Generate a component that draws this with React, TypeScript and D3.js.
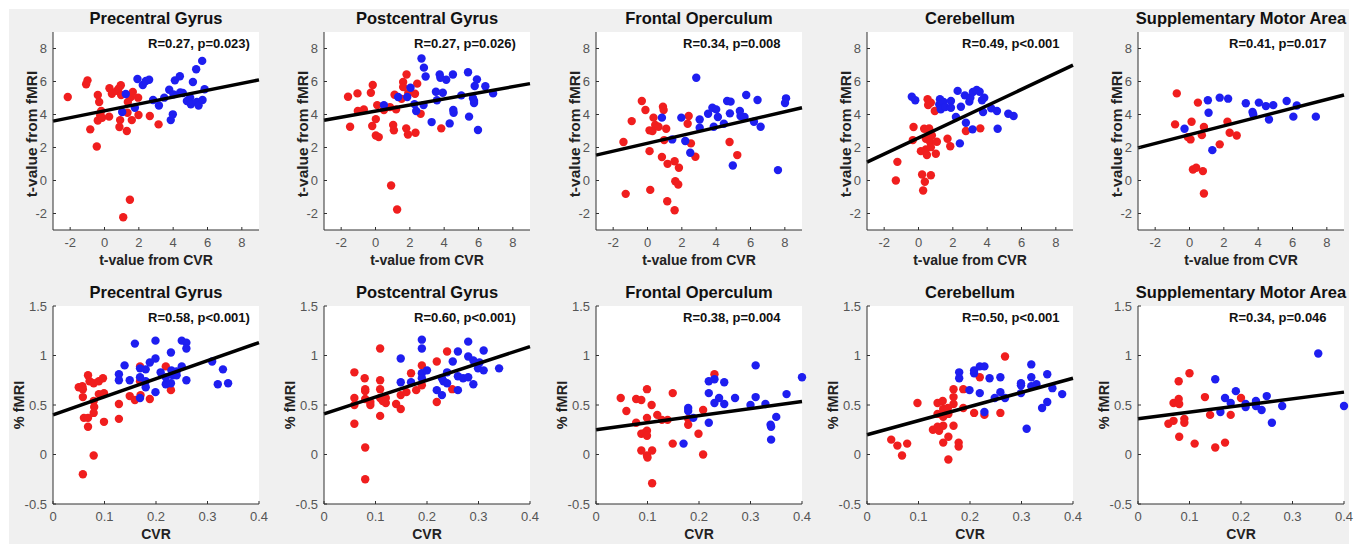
import React from 'react';
import * as d3 from 'd3';

type P = [number, number];

// ---------- labels ----------
const regions = ['Precentral Gyrus', 'Postcentral Gyrus', 'Frontal Operculum', 'Cerebellum', 'Supplementary Motor Area'];
const statsTop = ['R=0.27, p=0.023)', 'R=0.27, p=0.026)', 'R=0.34, p=0.008', 'R=0.49, p<0.001', 'R=0.41, p=0.017'];
const statsBottom = ['R=0.58, p<0.001)', 'R=0.60, p<0.001)', 'R=0.38, p=0.004', 'R=0.50, p<0.001', 'R=0.34, p=0.046'];
const tTicks = [-2, 0, 2, 4, 6, 8];
const tTickLabels = ['-2', '0', '2', '4', '6', '8'];
const cvrTicks = [0, 0.1, 0.2, 0.3, 0.4];
const cvrTickLabels = ['0', '0.1', '0.2', '0.3', '0.4'];
const pctTicks = [-0.5, 0, 0.5, 1, 1.5];
const pctTickLabels = ['-0.5', '0', '0.5', '1', '1.5'];
const tDomain: P = [-3, 9];
const cvrDomain: P = [0, 0.4];
const pctDomain: P = [-0.5, 1.5];

// ---------- top row: t-values ----------
const tPreRed: P[] = [[-2.14,5.06],[-1.07,5.83],[-0.99,6.07],[-0.83,3.1],[-0.45,2.06],[-0.39,5.18],[-0.31,4.76],[-0.39,3.64],[-0.25,3.95],[-0.19,4.21],[-0.14,3.8],[0.27,3.87],[0.29,5.59],[0.43,5.26],[0.72,5.43],[0.82,5.57],[0.95,5.77],[0.97,5.18],[0.91,3.66],[0.87,3.24],[1.3,3.0],[1.34,4.11],[1.36,4.76],[1.53,5.06],[1.65,5.36],[1.59,3.66],[1.96,5.02],[1.98,3.97],[2.64,3.91],[3.15,3.4],[1.09,-2.23],[1.48,-1.17]];
const tPreBlue: P[] = [[1.24,5.24],[1.03,4.15],[1.77,4.41],[1.92,6.15],[2.23,5.79],[2.41,6.03],[2.6,6.11],[2.83,4.88],[3.17,4.55],[3.48,5.02],[3.77,5.5],[3.86,3.66],[3.98,4.01],[4.02,5.22],[4.1,6.07],[4.39,6.32],[4.41,5.34],[4.56,5.3],[4.8,4.82],[4.99,5.02],[5.15,5.97],[5.03,4.62],[5.34,6.74],[5.38,4.76],[5.48,4.55],[5.69,7.25],[5.71,4.88],[5.83,5.53]];
const tPostRed: P[] = [[-1.6,5.08],[-1.48,3.26],[-1.05,5.28],[-1.03,4.21],[-0.68,4.31],[-0.27,5.32],[-0.16,5.79],[-0.19,3.3],[0.02,3.72],[0.02,2.73],[0.19,2.63],[0.1,4.57],[0.49,4.27],[0.84,4.45],[0.91,-0.3],[1.03,3.36],[1.07,3.04],[1.11,5.2],[1.2,4.31],[1.26,-1.76],[1.52,4.95],[1.61,5.97],[1.61,5.66],[1.81,6.42],[1.79,3.16],[1.91,5.3],[1.89,2.79],[2.3,5.26],[2.33,2.89],[2.43,5.87],[2.63,4.04],[3.83,3.16]];
const tPostBlue: P[] = [[0.49,4.57],[1.32,5.06],[1.85,5.06],[2.04,5.62],[2.27,4.63],[2.37,4.21],[2.68,7.39],[2.82,6.84],[2.92,6.3],[2.8,4.57],[3.27,3.54],[3.52,5.38],[3.58,4.86],[3.74,6.42],[3.78,6.22],[3.92,5.32],[4.12,6.11],[4.32,3.46],[4.51,6.42],[4.53,4.27],[4.55,4.11],[5.0,5.16],[5.39,6.56],[5.45,3.87],[5.68,4.98],[5.74,4.82],[5.78,5.73],[5.74,4.7],[5.91,6.13],[5.97,3.06],[6.4,5.71],[6.85,5.28]];
const tFrontRed: P[] = [[-1.4,2.33],[-1.27,-0.81],[-0.92,3.6],[-0.33,4.82],[-0.12,4.27],[0.12,3.04],[0.12,1.78],[0.16,-0.57],[0.29,3.0],[0.35,3.81],[0.45,3.36],[0.64,3.26],[0.84,1.42],[0.9,4.47],[0.94,4.27],[0.97,2.45],[1.09,3.14],[1.15,-1.26],[1.17,1.01],[1.58,-1.8],[1.58,1.17],[1.62,-0.04],[1.79,-0.24],[1.83,0.77],[2.4,3.91],[2.34,3.44],[2.53,2.25],[2.79,1.44],[4.78,2.33],[5.23,1.54]];
const tFrontBlue: P[] = [[0.84,3.81],[1.44,2.49],[1.97,3.81],[2.2,2.39],[2.49,1.68],[2.84,6.23],[3.04,3.7],[3.04,3.2],[3.53,4.05],[3.78,4.41],[4.0,4.31],[4.1,3.85],[3.86,3.26],[4.45,3.44],[4.64,4.82],[4.84,4.78],[4.8,4.07],[4.97,0.91],[5.38,4.21],[5.42,3.91],[5.65,3.85],[5.75,5.18],[6.2,3.56],[6.41,4.88],[6.59,3.26],[7.6,0.63],[8.01,4.7],[8.07,4.98]];
const tCereRed: P[] = [[-1.32,0],[-1.23,1.13],[-0.33,2.45],[-0.29,3.24],[0.14,1.78],[0.21,0.36],[0.27,-0.61],[0.33,3.14],[0.37,-0.08],[0.43,2.53],[0.43,1.88],[0.49,1.54],[0.53,4.92],[0.56,4.57],[0.62,2.79],[0.62,3.16],[0.68,2.33],[0.72,4.72],[0.72,0.32],[0.72,2.02],[0.78,2.73],[0.95,4.21],[1.01,1.62],[1.07,2.35],[1.69,2.53],[1.85,2.08],[2.76,3.0],[3.6,3.16]];
const tCereBlue: P[] = [[-0.39,5.08],[-0.19,4.86],[1.25,4.92],[1.21,4.61],[1.3,4.31],[1.46,4.76],[1.56,4.45],[1.89,4.82],[1.89,4.41],[2.18,3.85],[2.28,5.43],[2.41,2.25],[2.47,4.47],[2.7,5.16],[2.76,3.5],[2.96,4.78],[3.02,5.02],[3.15,3.1],[3.17,5.36],[3.39,5.49],[3.56,5.38],[3.7,4.86],[3.76,4.15],[3.83,5.02],[4.24,4.37],[4.57,4.21],[4.61,3.14],[5.23,4.05],[5.54,3.91]];
const tSmaRed: P[] = [[-0.84,3.4],[-0.74,5.28],[-0.1,2.63],[0.06,2.49],[0.12,3.56],[0.2,0.67],[0.39,0.77],[0.49,4.72],[0.72,2.75],[0.78,0.57],[0.84,-0.79],[0.84,3.24],[1.76,2.19],[2.21,3.56],[2.34,2.89],[2.75,2.73]];
const tSmaBlue: P[] = [[-0.29,3.14],[1.07,4.86],[1.11,4.11],[1.33,1.84],[1.76,5.02],[2.25,4.96],[3.28,4.68],[3.67,4.15],[3.71,4.01],[4.04,4.72],[4.45,4.51],[4.63,3.7],[4.88,4.57],[5.66,4.82],[6.05,3.87],[6.25,4.55],[7.36,3.87]];

// ---------- bottom row: CVR vs % fMRI ----------
const cPreRed: P[] = [[0.05,0.68],[0.057,0.69],[0.058,0.66],[0.058,0.58],[0.06,0.37],[0.058,-0.2],[0.068,0.8],[0.068,0.37],[0.068,0.28],[0.071,0.74],[0.079,-0.01],[0.079,0.72],[0.079,0.54],[0.08,0.48],[0.079,0.42],[0.089,0.74],[0.089,0.61],[0.097,0.77],[0.099,0.62],[0.099,0.33],[0.128,0.51],[0.128,0.36],[0.149,0.59],[0.159,0.55],[0.169,0.89],[0.169,0.74],[0.17,0.6],[0.188,0.56],[0.219,0.89],[0.229,0.65]];
const cPreBlue: P[] = [[0.128,0.81],[0.128,0.75],[0.139,0.9],[0.149,0.75],[0.159,1.12],[0.169,0.87],[0.169,0.78],[0.169,0.57],[0.18,0.74],[0.18,0.68],[0.18,0.86],[0.188,0.93],[0.199,1.15],[0.199,0.97],[0.199,0.63],[0.209,0.83],[0.219,0.71],[0.219,0.78],[0.229,1.03],[0.229,0.72],[0.23,0.85],[0.233,0.8],[0.24,0.84],[0.24,0.8],[0.25,0.89],[0.25,1.15],[0.259,1.13],[0.259,1.07],[0.259,0.75],[0.309,0.94],[0.32,0.71],[0.33,0.86],[0.34,0.72]];
const cPostRed: P[] = [[0.059,0.83],[0.059,0.57],[0.059,0.5],[0.059,0.31],[0.079,0.77],[0.08,0.66],[0.08,0.64],[0.08,0.56],[0.08,0.07],[0.08,-0.25],[0.09,0.53],[0.09,0.5],[0.109,1.07],[0.109,0.75],[0.109,0.66],[0.109,0.39],[0.109,0.57],[0.114,0.54],[0.12,0.57],[0.12,0.52],[0.14,0.51],[0.149,0.6],[0.149,0.46],[0.16,0.63],[0.169,0.82],[0.179,0.65],[0.19,0.9],[0.19,0.7],[0.219,0.94],[0.219,0.53],[0.239,1.04],[0.249,0.66]];
const cPostBlue: P[] = [[0.149,0.97],[0.149,0.73],[0.169,0.73],[0.19,1.16],[0.19,1.07],[0.19,0.82],[0.19,0.77],[0.2,0.85],[0.219,0.65],[0.229,0.77],[0.229,0.6],[0.232,0.74],[0.239,0.72],[0.239,0.83],[0.25,0.94],[0.26,1.04],[0.26,0.79],[0.26,0.65],[0.27,0.77],[0.28,1.14],[0.28,0.99],[0.28,0.78],[0.29,0.95],[0.29,0.71],[0.299,0.87],[0.302,0.93],[0.31,1.05],[0.31,0.85],[0.34,0.87]];
const cFrontRed: P[] = [[0.048,0.57],[0.059,0.44],[0.078,0.56],[0.078,0.32],[0.088,0.55],[0.088,0.21],[0.088,0.04],[0.095,0.22],[0.099,0.66],[0.099,0.37],[0.099,0.24],[0.099,0.19],[0.099,-0.01],[0.1,-0.03],[0.108,0.5],[0.109,0.04],[0.109,-0.29],[0.119,0.4],[0.128,0.35],[0.139,0.35],[0.149,0.62],[0.149,0.11],[0.179,0.36],[0.179,0.3],[0.199,0.21],[0.208,0.45],[0.208,0.0],[0.23,0.81]];
const cFrontBlue: P[] = [[0.17,0.11],[0.179,0.47],[0.179,0.44],[0.189,0.37],[0.219,0.74],[0.219,0.62],[0.219,0.32],[0.23,0.76],[0.23,0.52],[0.239,0.57],[0.249,0.73],[0.249,0.51],[0.27,0.57],[0.3,0.5],[0.31,0.9],[0.31,0.58],[0.329,0.51],[0.339,0.3],[0.34,0.28],[0.34,0.15],[0.35,0.38],[0.37,0.61],[0.4,0.78]];
const cCereRed: P[] = [[0.047,0.15],[0.059,0.09],[0.068,-0.01],[0.078,0.11],[0.098,0.52],[0.128,0.25],[0.137,0.52],[0.137,0.41],[0.137,0.28],[0.14,0.24],[0.147,0.54],[0.148,0.46],[0.148,0.38],[0.148,0.29],[0.148,0.12],[0.157,0.47],[0.158,0.41],[0.158,0.18],[0.158,-0.05],[0.168,0.66],[0.168,0.58],[0.168,0.51],[0.168,0.29],[0.178,0.12],[0.178,0.08],[0.187,0.66],[0.187,0.47],[0.208,0.42],[0.219,0.78],[0.228,0.4],[0.259,0.42],[0.268,0.99]];
const cCereBlue: P[] = [[0.179,0.83],[0.179,0.77],[0.199,0.65],[0.208,0.85],[0.208,0.82],[0.219,0.89],[0.219,0.62],[0.228,0.89],[0.228,0.43],[0.238,0.77],[0.248,0.57],[0.259,0.78],[0.259,0.63],[0.268,0.57],[0.299,0.72],[0.299,0.7],[0.299,0.62],[0.31,0.26],[0.319,0.91],[0.319,0.78],[0.319,0.69],[0.329,0.71],[0.34,0.47],[0.35,0.81],[0.35,0.53],[0.36,0.67],[0.379,0.61]];
const cSmaRed: P[] = [[0.059,0.31],[0.069,0.34],[0.069,0.52],[0.079,0.74],[0.079,0.56],[0.08,0.51],[0.08,0.18],[0.09,0.36],[0.09,0.32],[0.1,0.82],[0.11,0.11],[0.13,0.58],[0.14,0.4],[0.15,0.07],[0.169,0.12],[0.18,0.4],[0.2,0.57]];
const cSmaBlue: P[] = [[0.15,0.76],[0.16,0.43],[0.169,0.57],[0.18,0.52],[0.19,0.64],[0.209,0.51],[0.209,0.48],[0.229,0.54],[0.229,0.49],[0.24,0.45],[0.25,0.59],[0.26,0.32],[0.28,0.49],[0.35,1.02],[0.4,0.49]];

// fitted lines: y at left and right ends of the x-domain
const tFits: P[] = [[3.6, 6.1], [3.65, 5.87], [1.54, 4.41], [1.11, 6.99], [1.98, 5.18]];
const cFits: P[] = [[0.4, 1.13], [0.41, 1.09], [0.25, 0.535], [0.2, 0.77], [0.36, 0.63]];

const tRed = [tPreRed, tPostRed, tFrontRed, tCereRed, tSmaRed];
const tBlue = [tPreBlue, tPostBlue, tFrontBlue, tCereBlue, tSmaBlue];
const cRed = [cPreRed, cPostRed, cFrontRed, cCereRed, cSmaRed];
const cBlue = [cPreBlue, cPostBlue, cFrontBlue, cCereBlue, cSmaBlue];

// ---------- layout ----------
const W = 1362, H = 544;
const colLeft = [53, 324, 596, 867, 1138];
const plotW = 206;
const rowTop = [32, 306];
const plotH = 198;
const statOffset = [95, 90, 87, 95, 91];
const RED = '#f01e1e';
const BLUE = '#1e1ef0';
const FONT = '"Liberation Sans", Arial, Helvetica, sans-serif';

interface PanelProps {
  left: number; top: number;
  xDomain: P; yDomain: P;
  xTicks: number[]; xTickLabels: string[];
  yTicks: number[]; yTickLabels: string[];
  red: P[]; blue: P[]; fit: P;
  title: string; stat: string; statDx: number;
  xLabel: string; yLabel: string; yLabelGap: number; yLabelSize: number; yLabelShift: number;
}

function Panel(p: PanelProps) {
  const x = d3.scaleLinear().domain(p.xDomain).range([p.left, p.left + plotW]);
  const y = d3.scaleLinear().domain(p.yDomain).range([p.top + plotH, p.top]);
  const bottom = p.top + plotH;
  const line = d3.line<P>().x(d => x(d[0])).y(d => y(d[1]));
  const fitPts: P[] = [[p.xDomain[0], p.fit[0]], [p.xDomain[1], p.fit[1]]];
  const axisColor = '#303030';
  const tickColor = '#555555';
  return (
    <g>
      <rect x={p.left} y={p.top} width={plotW} height={plotH} fill="#ffffff" />
      {p.red.map((d, i) => <circle key={'r' + i} cx={x(d[0])} cy={y(d[1])} r={4.2} fill={RED} />)}
      {p.blue.map((d, i) => <circle key={'b' + i} cx={x(d[0])} cy={y(d[1])} r={4.2} fill={BLUE} />)}
      <path d={line(fitPts) || ''} stroke="#000" strokeWidth={3.5} fill="none" />
      <line x1={p.left} x2={p.left + plotW} y1={bottom} y2={bottom} stroke={axisColor} strokeWidth={1} />
      <line x1={p.left} x2={p.left} y1={p.top} y2={bottom} stroke={axisColor} strokeWidth={1} />
      {p.xTicks.map((t, i) => (
        <g key={'xt' + i}>
          <line x1={x(t)} x2={x(t)} y1={bottom} y2={bottom - 3} stroke={axisColor} />
          <text x={x(t)} y={bottom + 16.5} textAnchor="middle" fontSize={13} fill={tickColor} fontFamily={FONT}>{p.xTickLabels[i]}</text>
        </g>
      ))}
      {p.yTicks.map((t, i) => (
        <g key={'yt' + i}>
          <line x1={p.left} x2={p.left + 3} y1={y(t)} y2={y(t)} stroke={axisColor} />
          <text x={p.left - 6} y={y(t) + 4.5} textAnchor="end" fontSize={13} fill={tickColor} fontFamily={FONT}>{p.yTickLabels[i]}</text>
        </g>
      ))}
      <text x={p.left + plotW / 2} y={p.top - 8} textAnchor="middle" fontSize={16.5} fontWeight="bold" fill="#111" fontFamily={FONT}>{p.title}</text>
      <text x={p.left + p.statDx} y={p.top + 16} fontSize={13} fontWeight="bold" fill="#111" fontFamily={FONT}>{p.stat}</text>
      <text x={p.left + plotW / 2} y={bottom + 35} textAnchor="middle" fontSize={14} fontWeight="bold" fill="#222" fontFamily={FONT}>{p.xLabel}</text>
      <text transform={`translate(${p.left - p.yLabelGap},${p.top + plotH / 2 + p.yLabelShift}) rotate(-90)`} textAnchor="middle" fontSize={p.yLabelSize} fontWeight="bold" fill="#222" fontFamily={FONT}>{p.yLabel}</text>
    </g>
  );
}

export default function App() {
  return (
    <svg width={W} height={H} style={{ position: 'absolute', left: 0, top: 0 }} xmlns="http://www.w3.org/2000/svg">
      <rect x={0} y={0} width={W} height={H} fill="#ffffff" />
      <rect x={9} y={9} width={1340} height={H - 9} fill="#f0f0f0" />
      {regions.map((r, i) => (
        <Panel key={'top' + i} left={colLeft[i]} top={rowTop[0]}
          xDomain={tDomain} yDomain={tDomain}
          xTicks={tTicks} xTickLabels={tTickLabels} yTicks={tTicks} yTickLabels={tTickLabels}
          red={tRed[i]} blue={tBlue[i]} fit={tFits[i]}
          title={r} stat={statsTop[i]} statDx={statOffset[i]}
          xLabel="t-value from CVR" yLabel="t-value from fMRI" yLabelGap={16} yLabelSize={15.5} yLabelShift={3} />
      ))}
      {regions.map((r, i) => (
        <Panel key={'bot' + i} left={colLeft[i]} top={rowTop[1]}
          xDomain={cvrDomain} yDomain={pctDomain}
          xTicks={cvrTicks} xTickLabels={cvrTickLabels} yTicks={pctTicks} yTickLabels={pctTickLabels}
          red={cRed[i]} blue={cBlue[i]} fit={cFits[i]}
          title={r} stat={statsBottom[i]} statDx={statOffset[i]}
          xLabel="CVR" yLabel="% fMRI" yLabelGap={29} yLabelSize={14.5} yLabelShift={0} />
      ))}
    </svg>
  );
}
